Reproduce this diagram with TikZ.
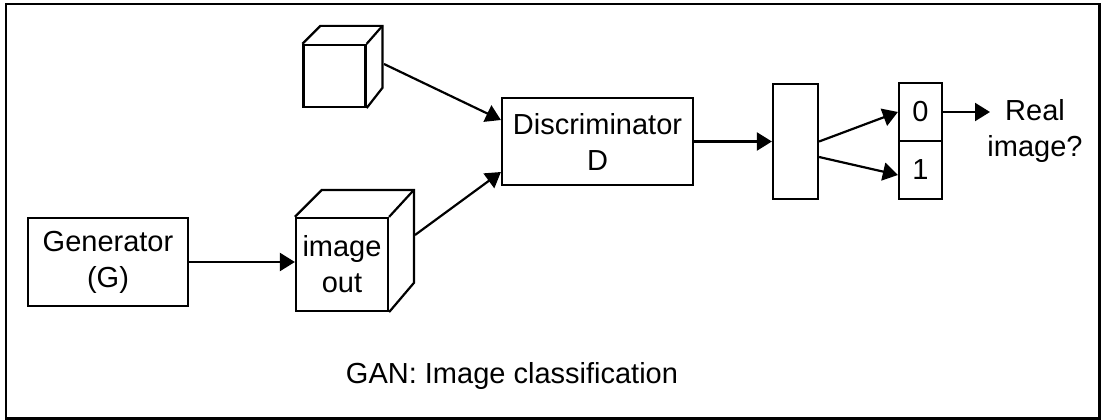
\documentclass[tikz,border=0pt]{standalone}
\usepackage{fontspec}
\setmainfont{Liberation Sans}
\usetikzlibrary{arrows.meta}
\begin{document}
\begin{tikzpicture}[x=1pt,y=-1pt,
  box/.style={draw,line width=2.2pt,minimum width=0pt,minimum height=0pt,inner sep=0pt,font=\fontsize{29}{36}\selectfont,align=center},
  lbl/.style={font=\fontsize{29}{36}\selectfont,align=center,inner sep=0pt},
  conn/.style={line width=2.2pt,-{Triangle[length=15pt,width=18pt]}},
  edge/.style={line width=2.2pt,line join=miter}]
\useasboundingbox (0,0) rectangle (1101,420);
\draw[line width=2.8pt] (6,4) rectangle (1099.5,418.5);
% Generator
\node[box,minimum width=160pt,minimum height=88pt] (gen) at (108,262) {Generator\\(G)};
% small cube
\node[box,minimum width=62pt,minimum height=62pt] (cube1) at (334.5,76) {};
\draw[edge] (cube1.north west) -- ++(18,-18) coordinate (c1a) -- ++(62,0) coordinate (c1b) -- ++(0,62) coordinate (c1c) -- (cube1.south east);
\draw[edge] (cube1.north east) -- (c1b);
\coordinate (c1out) at (384,64);
% image out cube
\node[box,minimum width=92pt,minimum height=93pt] (cube2) at (342,264.5) {image\\out};
\draw[edge] (cube2.north west) -- ++(27,-27) coordinate (c2a) -- ++(92,0) coordinate (c2b) -- ++(0,93) coordinate (c2c) -- (cube2.south east);
\draw[edge] (cube2.north east) -- (c2b);
\coordinate (c2out) at (415,235);
% Discriminator
\node[box,minimum width=191pt,minimum height=87pt] (disc) at (597.5,141.5) {Discriminator\\D};
% tall rect
\node[box,minimum width=45pt,minimum height=115pt] (tall) at (795.5,141.5) {};
% output cells
\node[box,minimum width=43pt,minimum height=58pt] (zero) at (920.5,112) {0};
\node[box,minimum width=43pt,minimum height=58pt] (one) at (920.5,170) {1};
\node[lbl] (real) at (1035,131) {Real\\image?};
\node[lbl] (cap) at (512,376) {GAN: Image classification};
% connectors
\draw[conn] (gen.east) -- (gen.east -| cube2.west);
\draw[conn] (c1out) -- (disc.west |- 0,120);
\draw[conn] (c2out) -- (disc.west |- 0,172);
\draw[conn] (disc.east) -- (tall.west);
\draw[conn] (tall.east) -- (zero.west);
\draw[conn] (tall.east |- 0,157) -- (one.west |- 0,175);
\draw[conn] (zero.east) -- (990,112);
\end{tikzpicture}
\end{document}
